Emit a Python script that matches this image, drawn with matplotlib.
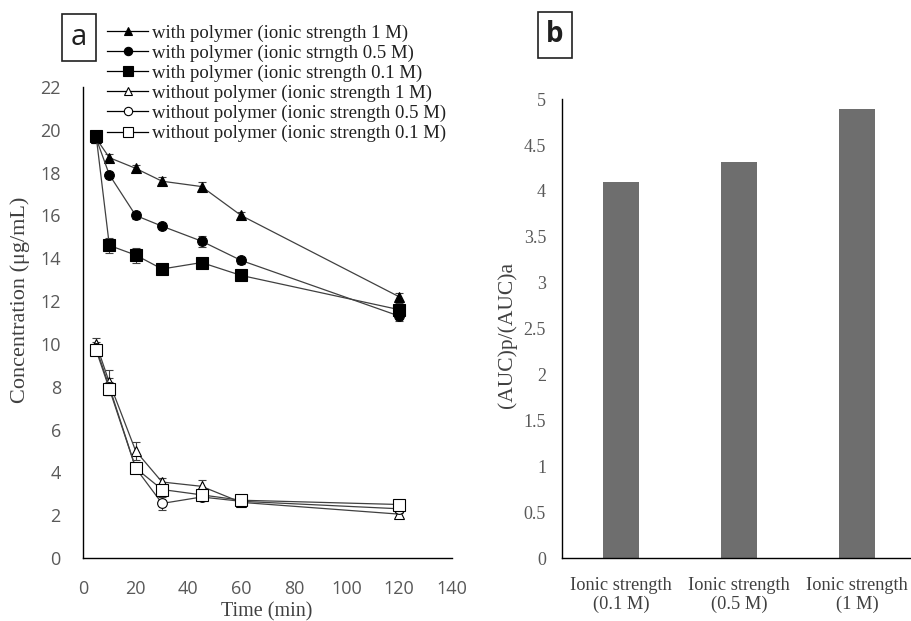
import numpy as np
import matplotlib
matplotlib.use("Agg")
import matplotlib.pyplot as plt
from matplotlib.lines import Line2D

# ---- data ----
time_min = [5, 10, 20, 30, 45, 60, 120]

wp_1M = [19.6, 18.7, 18.2, 17.6, 17.35, 16.0, 12.2]
wp_05M = [19.6, 17.9, 16.0, 15.5, 14.8, 13.9, 11.3]
wp_01M = [19.7, 14.6, 14.15, 13.5, 13.8, 13.2, 11.6]
np_1M = [10.0, 8.2, 5.0, 3.55, 3.35, 2.6, 2.05]
np_05M = [9.8, 8.0, 4.2, 2.55, 2.85, 2.65, 2.3]
np_01M = [9.7, 7.9, 4.2, 3.2, 2.95, 2.7, 2.5]

err_wp_1M = [0.2, 0.15, 0.15, 0.2, 0.2, 0.15, 0.2]
err_wp_05M = [0.2, 0.15, 0.15, 0.15, 0.25, 0.15, 0.25]
err_wp_01M = [0.2, 0.35, 0.35, 0.15, 0.15, 0.15, 0.3]
err_np_1M = [0.3, 0.6, 0.4, 0.2, 0.3, 0.15, 0.2]
err_np_05M = [0.3, 0.4, 0.2, 0.3, 0.15, 0.15, 0.2]
err_np_01M = [0.2, 0.3, 0.2, 0.2, 0.2, 0.15, 0.15]

labels = ["with polymer (ionic strength 1 M)",
          "with polymer (ionic strngth 0.5 M)",
          "with polymer (ionic strength 0.1 M)",
          "without polymer (ionic strength 1 M)",
          "without polymer (ionic strength 0.5 M)",
          "without polymer (ionic strength 0.1 M)"]

bar_cats = ["Ionic strength\n(0.1 M)", "Ionic strength\n(0.5 M)", "Ionic strength\n(1 M)"]
auc_ratio = [4.1, 4.32, 4.89]

SERIF = "Liberation Serif"
SANS = "Open Sans"
TICKC = "#595959"
LINEC = "#404040"

fig = plt.figure(figsize=(9.11, 6.21), dpi=100)

# ---- panel a ----
ax = fig.add_axes([0.0911, 0.1014, 0.405, 0.7585])

series = [(wp_1M, err_wp_1M, "^", "black", 7),
          (wp_05M, err_wp_05M, "o", "black", 7),
          (wp_01M, err_wp_01M, "s", "black", 8),
          (np_1M, err_np_1M, "^", "white", 7),
          (np_05M, err_np_05M, "o", "white", 7),
          (np_01M, err_np_01M, "s", "white", 8)]

handles = []
for (vals, errs, mk, fc, ms), lab in zip(series, labels):
    ax.errorbar(time_min, vals, yerr=errs, fmt="none", ecolor=LINEC,
                elinewidth=0.8, capsize=3, capthick=0.8, zorder=2)
    ax.plot(time_min, vals, color=LINEC, lw=0.9, marker=mk, ms=ms,
            mfc=fc, mec="black", mew=0.8, zorder=3)
    handles.append(Line2D([], [], color="black", lw=0.9, marker=mk, ms=ms - 1,
                          mfc=fc, mec="black", mew=0.8))

ax.set_xlim(0, 140)
ax.set_ylim(0, 22)
ax.set_xticks(range(0, 141, 20))
ax.set_yticks(range(0, 23, 2))
for s in ["top", "right"]:
    ax.spines[s].set_visible(False)
for s in ["left", "bottom"]:
    ax.spines[s].set_color("black")
    ax.spines[s].set_linewidth(1.0)
ax.tick_params(length=0, pad=16, labelsize=13, colors=TICKC)
for t in ax.get_xticklabels() + ax.get_yticklabels():
    t.set_fontfamily(SANS)

fig.text(0.022, 0.517, "Concentration (\u03bcg/mL)", rotation=90, ha="center",
         va="center", fontsize=16, family=SERIF, color=LINEC)
fig.text(0.293, 0.0145, "Time (min)", ha="center", va="center",
         fontsize=14.5, family=SERIF, color=LINEC)

leg = fig.legend(handles, labels, loc="upper left",
                 bbox_to_anchor=(0.1175, 0.961), frameon=False,
                 prop={"family": SERIF, "size": 13.5}, handlelength=2.2,
                 handletextpad=0.2, labelspacing=0.15, borderpad=0,
                 borderaxespad=0)
for t in leg.get_texts():
    t.set_color("#202020")

fig.text(0.0867, 0.940, "a", ha="center", va="center", fontsize=21,
         family=SANS, color="#202020",
         bbox=dict(boxstyle="square,pad=0.3", fc="white", ec="#202020", lw=1.2))

# ---- panel b ----
bx = fig.add_axes([0.617, 0.1014, 0.3886, 0.739])
xpos = np.arange(len(bar_cats))
bx.bar(xpos, auc_ratio, width=0.31, color="#6e6e6e")
bx.set_xlim(-0.5, 2.5)
bx.set_ylim(0, 5)
bx.set_yticks(np.arange(0, 5.01, 0.5))
bx.set_yticklabels(["0", "0.5", "1", "1.5", "2", "2.5", "3", "3.5", "4", "4.5", "5"])
bx.set_xticks(xpos)
bx.set_xticklabels(bar_cats)
for s in ["top", "right"]:
    bx.spines[s].set_visible(False)
for s in ["left", "bottom"]:
    bx.spines[s].set_color("black")
    bx.spines[s].set_linewidth(1.0)
bx.tick_params(axis="y", length=0, pad=11.5, labelsize=13, colors=TICKC)
bx.tick_params(axis="x", length=0, pad=14, labelsize=13.2, colors=LINEC)
for t in bx.get_xticklabels() + bx.get_yticklabels():
    t.set_fontfamily(SERIF)
    t.set_linespacing(1.1)

fig.text(0.557, 1 - 335 / 621, "(AUC)p/(AUC)a", rotation=90, ha="center",
         va="center", fontsize=15.5, family=SERIF, color=LINEC)

fig.text(0.609, 0.944, "b", ha="center", va="center", fontsize=20,
         family=SANS, weight="bold", color="#202020",
         bbox=dict(boxstyle="square,pad=0.3", fc="white", ec="#202020", lw=1.2))

fig.savefig("out.png", dpi=100)
